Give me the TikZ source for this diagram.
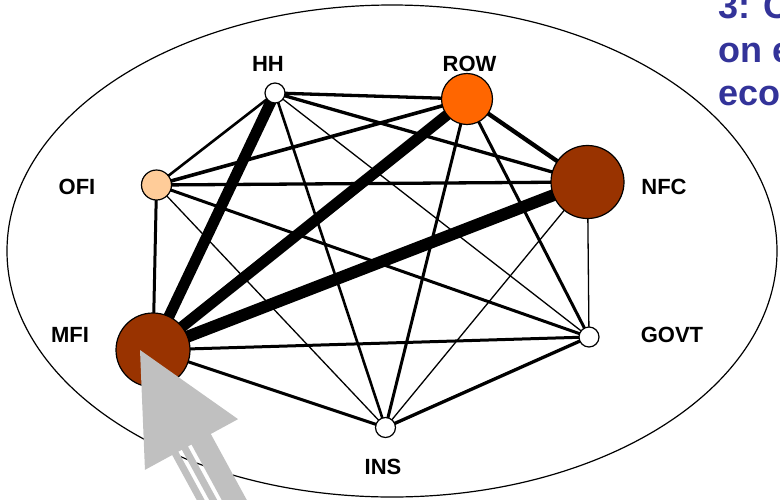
\documentclass[tikz,border=0pt]{standalone}
\usepackage{fontspec}
\setmainfont{Liberation Sans}
\definecolor{rowc}{HTML}{FF6600}
\definecolor{brownc}{HTML}{993300}
\definecolor{peach}{HTML}{FFCC99}
\definecolor{titleblue}{HTML}{333399}
\definecolor{arrowgray}{HTML}{C0C0C0}
\pgfdeclarelayer{edges}
\pgfsetlayers{edges,main}
\begin{document}
\begin{tikzpicture}[x=1pt,y=-1pt,
  sector/.style={circle,draw=black,line width=1.2pt,inner sep=0pt,minimum size=#1},
  lbl/.style={font=\fontsize{22}{22}\selectfont\bfseries,inner sep=0pt},
  heavy/.style={line width=11.5pt},
  medium/.style={line width=3.3pt},
  light/.style={line width=1.3pt},
  titletext/.style={font=\fontsize{36}{36}\selectfont\bfseries,text=titleblue,inner sep=0pt,anchor=base west}]
\useasboundingbox (0,0) rectangle (780,499);
\clip (0,0) rectangle (780,499);
\draw[line width=1.2pt] (392,251) ellipse [x radius=385, y radius=246];
% nodes
\node[sector=20pt,fill=white] (HH) at (275,93) {};
\node[sector=51pt,fill=rowc] (ROW) at (467,99) {};
\node[sector=73pt,fill=brownc] (NFC) at (587.5,182) {};
\node[sector=30pt,fill=peach] (OFI) at (156.5,185) {};
\node[sector=74pt,fill=brownc] (MFI) at (153,350) {};
\node[sector=20pt,fill=white] (GOVT) at (589,337) {};
\node[sector=20pt,fill=white] (INS) at (385.5,427.5) {};
% labels
\node[lbl] (lHH) at (268,64) {HH};
\node[lbl] (lROW) at (469.5,64) {ROW};
\node[lbl] (lNFC) at (664,187) {NFC};
\node[lbl] (lOFI) at (77,187) {OFI};
\node[lbl] (lMFI) at (70,335) {MFI};
\node[lbl] (lGOVT) at (672,335) {GOVT};
\node[lbl] (lINS) at (383,467) {INS};
% edges
\begin{pgfonlayer}{edges}
\draw[medium] (HH.center) -- (ROW.center);
\draw[medium] (HH.center) -- (NFC.center);
\draw[medium,line width=2.6pt] (HH.center) -- (OFI.center);
\draw[heavy,line width=11pt] (HH.center) -- (MFI.center);
\draw[medium,line width=2.6pt] (HH.center) -- (INS.center);
\draw[light] (HH.center) -- (GOVT.center);
\draw[medium,line width=3.6pt] (ROW.center) -- (OFI.center);
\draw[medium,line width=4.3pt] (ROW.center) -- (NFC.center);
\draw[heavy,line width=11pt] (ROW.center) -- (MFI.center);
\draw[medium,line width=3pt] (ROW.center) -- (INS.center);
\draw[medium,line width=3pt] (ROW.center) -- (GOVT.center);
\draw[medium] (NFC.center) -- (OFI.center);
\draw[heavy,line width=12pt] (NFC.center) -- (MFI.center);
\draw[light] (NFC.center) -- (INS.center);
\draw[light] (NFC.center) -- (GOVT.center);
\draw[medium,line width=3pt] (OFI.center) -- (MFI.center);
\draw[light] (OFI.center) -- (INS.center);
\draw[medium,line width=3pt] (OFI.center) -- (GOVT.center);
\draw[medium,line width=3pt] (MFI.center) -- (GOVT.center);
\draw[medium,line width=3pt] (MFI.center) -- (INS.center);
\draw[medium] (GOVT.center) -- (INS.center);
\end{pgfonlayer}
% title text (clipped by the picture edge)
\node[titletext] (t1) at (718,18) {3: C};
\node[titletext] (t2) at (718,62) {on e};
\node[titletext] (t3) at (718,105) {eco};
% grey striped block arrow
\begin{scope}[shift={(191.5,444.5)},x={(0.8782pt,0.4786pt)},y={(0.4786pt,-0.8782pt)}]
\fill[arrowgray] (-53,0) -- (0,-107.6) -- (53,0) -- cycle;
\fill[arrowgray] (-22,-1) -- (-15,-1) -- (-15,140) -- (-22,140) -- cycle;
\fill[arrowgray] (-11,-1) -- (-4,-1) -- (-4,140) -- (-11,140) -- cycle;
\fill[arrowgray] (0,-1) -- (22,-1) -- (22,140) -- (0,140) -- cycle;
\end{scope}
\end{tikzpicture}
\end{document}
